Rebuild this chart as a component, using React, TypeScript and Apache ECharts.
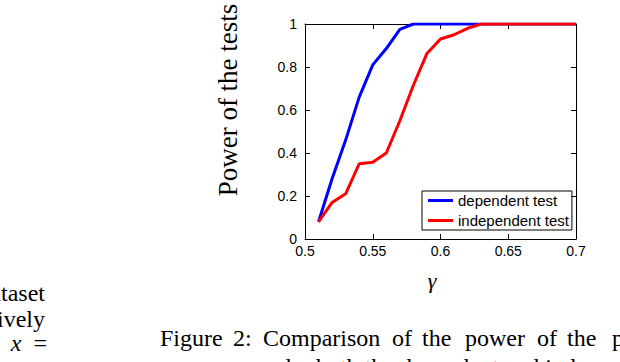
import React, { useEffect, useRef } from "react";
import * as echarts from "echarts";

const gammaValues = [0.51, 0.52, 0.53, 0.54, 0.55, 0.56, 0.57, 0.58, 0.59, 0.6, 0.61, 0.62, 0.63, 0.64, 0.65, 0.66, 0.67, 0.68, 0.69, 0.7];
const dependentPower = [0.08, 0.28, 0.46, 0.66, 0.81, 0.886, 0.975, 1, 1, 1, 1, 1, 1, 1, 1, 1, 1, 1, 1, 1];
const independentPower = [0.08, 0.17, 0.21, 0.35, 0.357, 0.4, 0.55, 0.715, 0.863, 0.93, 0.95, 0.98, 1, 1, 1, 1, 1, 1, 1, 1];
const seriesNames = ["dependent test", "independent test"];
const seriesColors = ["#0000ff", "#ff0000"];
const yAxisTitle = "Power of the tests";
const xAxisTitle = "γ";
const captionWords = ["Figure", "2:", "Comparison", "of", "the", "power", "of", "the", "p"];
const captionX = [160, 233, 263, 392, 422, 465, 537, 567, 612];
const captionLine2 = "measures under both the dependent and independent test";
const leftLines = ["dataset", "respectively"];

const SERIF = '"Liberation Serif", "Times New Roman", serif';
const SANS = '"Liberation Sans", Arial, Helvetica, sans-serif';

export default function App() {
  const ref = useRef<HTMLDivElement>(null);
  useEffect(() => {
    if (!ref.current) return;
    const chart = echarts.init(ref.current, undefined, { renderer: "svg" });
    const axisCommon = {
      axisLine: { show: true, onZero: false, lineStyle: { color: "#000", width: 1 } },
      axisTick: { show: true, inside: true, length: 5, lineStyle: { color: "#000", width: 1 } },
      splitLine: { show: false },
    };
    const captionFs = 24;
    const graphics: any[] = [];
    graphics.push({
      type: "text",
      x: 228,
      y: 100,
      rotation: Math.PI / 2,
      style: { text: yAxisTitle, fontSize: 27, fontFamily: SERIF, fill: "#000", align: "center", verticalAlign: "middle" },
    });
    graphics.push({
      type: "text",
      x: 432,
      y: 280,
      style: { text: xAxisTitle, fontSize: 22, fontStyle: "italic", fontFamily: SERIF, fill: "#000", align: "center", verticalAlign: "middle" },
    });
    captionWords.forEach((w, i) => {
      graphics.push({
        type: "text",
        x: captionX[i],
        y: 346 - 0.33 * captionFs,
        style: { text: w, fontSize: captionFs, fontFamily: SERIF, fill: "#000", align: "left", verticalAlign: "middle" },
      });
    });
    graphics.push({
      type: "text",
      x: 160,
      y: 375 - 0.33 * captionFs,
      style: { text: captionLine2, fontSize: captionFs, fontFamily: SERIF, fill: "#000", align: "left", verticalAlign: "middle" },
    });
    const leftBase = [301, 327];
    leftLines.forEach((t, i) => {
      graphics.push({
        type: "text",
        x: 45,
        y: leftBase[i] - 0.33 * captionFs,
        style: { text: t, fontSize: captionFs, fontFamily: SERIF, fill: "#000", align: "right", verticalAlign: "middle" },
      });
    });
    graphics.push({
      type: "text",
      x: 47,
      y: 351 - 0.33 * captionFs,
      style: {
        text: "{i|x}  =",
        fontSize: captionFs,
        fontFamily: SERIF,
        fill: "#000",
        align: "right",
        verticalAlign: "middle",
        rich: { i: { fontStyle: "italic", fontSize: captionFs, fontFamily: SERIF } },
      },
    });

    chart.setOption({
      animation: false,
      backgroundColor: "#fff",
      grid: { left: 305, top: 24, width: 271, height: 215, containLabel: false },
      legend: {
        data: seriesNames,
        orient: "vertical",
        left: 422,
        top: 191,
        icon: "rect",
        itemWidth: 25,
        itemHeight: 3,
        itemGap: 3,
        padding: [1, 3, 1, 6],
        borderColor: "#000",
        borderWidth: 1,
        borderRadius: 0,
        backgroundColor: "#fff",
        textStyle: { color: "#000", fontSize: 15, fontFamily: SANS, lineHeight: 17 },
      },
      xAxis: [
        {
          type: "value",
          min: 0.5,
          max: 0.7,
          interval: 0.05,
          ...axisCommon,
          axisLabel: { color: "#000", fontSize: 14, fontFamily: SANS, margin: 5 },
        },
        {
          type: "value",
          position: "top",
          min: 0.5,
          max: 0.7,
          interval: 0.05,
          ...axisCommon,
          axisLabel: { show: false },
        },
      ],
      yAxis: [
        {
          type: "value",
          min: 0,
          max: 1,
          interval: 0.2,
          ...axisCommon,
          axisLabel: { color: "#000", fontSize: 14, fontFamily: SANS, margin: 8 },
        },
        {
          type: "value",
          position: "right",
          min: 0,
          max: 1,
          interval: 0.2,
          ...axisCommon,
          axisLabel: { show: false },
        },
      ],
      series: [
        {
          name: seriesNames[0],
          type: "line",
          showSymbol: false,
          color: seriesColors[0],
          lineStyle: { color: seriesColors[0], width: 3 },
          data: gammaValues.map((g, i) => [g, dependentPower[i]]),
        },
        {
          name: seriesNames[1],
          type: "line",
          showSymbol: false,
          color: seriesColors[1],
          lineStyle: { color: seriesColors[1], width: 3 },
          data: gammaValues.map((g, i) => [g, independentPower[i]]),
        },
      ],
      graphic: graphics,
    });
    return () => chart.dispose();
  }, []);
  return (
    <div
      ref={ref}
      style={{ position: "fixed", left: 0, top: 0, width: 620, height: 362, background: "#fff" }}
    />
  );
}
